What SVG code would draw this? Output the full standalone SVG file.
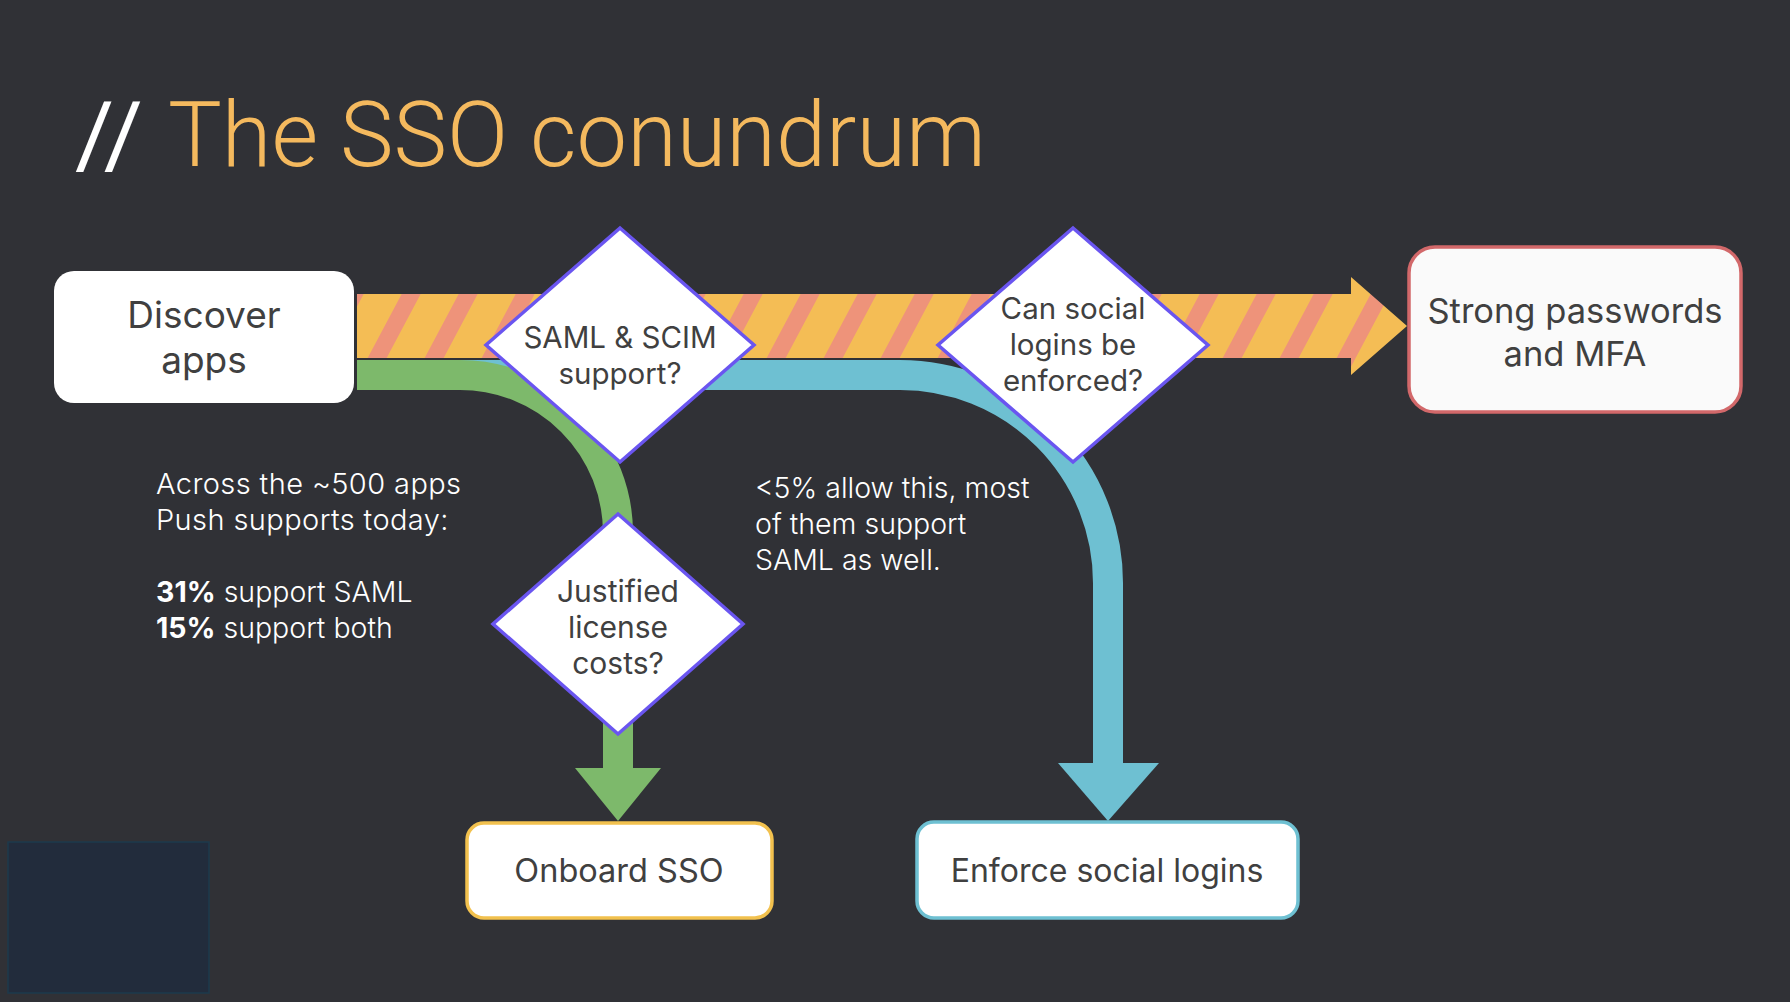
<svg xmlns="http://www.w3.org/2000/svg" width="1790" height="1002" viewBox="0 0 1790 1002">
<defs>
<pattern id="stripes" patternUnits="userSpaceOnUse" x="-12" y="0" width="57" height="10" patternTransform="skewX(-28)">
<rect x="0" y="0" width="57" height="10" fill="#F4BD55"/>
<rect x="0" y="0" width="19" height="10" fill="#EE937A"/>
</pattern>
<style>
.lbl{font-family:Inter,"Noto Sans","Liberation Sans",sans-serif;fill:#404040;text-anchor:middle}
.box{fill:#FFFFFF}
.dia{fill:#FFFFFF;stroke:#6A55F0;stroke-width:3.5;stroke-linejoin:miter}
.note{font-family:Inter,"Noto Sans","Liberation Sans",sans-serif;fill:#FFFFFF;font-weight:300;font-size:29px;letter-spacing:0.4px}
.note2{font-family:Inter,"Noto Sans","Liberation Sans",sans-serif;fill:#FFFFFF;font-weight:300;font-size:28.5px}
.flow{fill:none;stroke-width:30}
</style>
</defs>
<rect x="0" y="0" width="1790" height="1002" fill="#303136"/>

<g id="title">
<text x="75" y="166" font-family="Roboto,'Liberation Sans',sans-serif" font-size="91" font-weight="400" fill="#FFFFFF" textLength="68" lengthAdjust="spacingAndGlyphs">//</text>
<text x="168" y="166" font-family="Roboto,'Liberation Sans',sans-serif" font-size="91" font-weight="300" fill="#F4B95E" textLength="818" lengthAdjust="spacingAndGlyphs">The SSO conundrum</text>
</g>

<rect x="8" y="842" width="201" height="151" fill="#222C3C" stroke="#1D3A4C" stroke-width="1.5"/>

<g id="connectors">
<path d="M357,375 H900 A208,208 0 0 1 1108,583 V766" class="flow" stroke="#6EC0D2"/>
<polygon points="1058,763 1159,763 1108,821" fill="#6EC0D2"/>
<path d="M357,375 H460 A158,158 0 0 1 618,533 V770" class="flow" stroke="#7DB96B"/>
<polygon points="575,768 661,768 618,821" fill="#7DB96B"/>
<polygon points="357,294 1351,294 1351,277 1407,326 1351,375 1351,358 357,358" fill="url(#stripes)"/>
</g>

<g id="node-discover">
<rect class="box" x="54" y="271" width="300" height="132" rx="20"/>
<text class="lbl" x="204" y="328" font-size="37">Discover</text>
<text class="lbl" x="204" y="373" font-size="37">apps</text>
</g>

<g id="node-strong">
<rect x="1409" y="247" width="332" height="165" rx="26" fill="#FAFAFA" stroke="#D2686A" stroke-width="3.5"/>
<text class="lbl" x="1575" y="323" font-size="34.5">Strong passwords</text>
<text class="lbl" x="1575" y="366" font-size="34.5">and MFA</text>
</g>

<g id="node-saml">
<polygon class="dia" points="620,228 754,345 620,462 486,345"/>
<text class="lbl" x="620" y="348" font-size="29.5">SAML &amp; SCIM</text>
<text class="lbl" x="620" y="384" font-size="29.5">support?</text>
</g>

<g id="node-social">
<polygon class="dia" points="1073,228 1208,345 1073,462 938,345"/>
<text class="lbl" x="1073" y="319" font-size="29.5">Can social</text>
<text class="lbl" x="1073" y="355" font-size="29.5">logins be</text>
<text class="lbl" x="1073" y="391" font-size="29.5">enforced?</text>
</g>

<g id="node-justified">
<polygon class="dia" points="618,514 743,624 618,734 493,624"/>
<text class="lbl" x="618" y="602" font-size="30">Justified</text>
<text class="lbl" x="618" y="638" font-size="30">license</text>
<text class="lbl" x="618" y="674" font-size="30">costs?</text>
</g>

<g id="node-onboard">
<rect class="box" x="467" y="823" width="305" height="95" rx="17" stroke="#F2C14E" stroke-width="3.5"/>
<text class="lbl" x="619" y="882" font-size="32.5">Onboard SSO</text>
</g>

<g id="node-enforce">
<rect class="box" x="917" y="822" width="381" height="96" rx="17" stroke="#6EC0D2" stroke-width="3.5"/>
<text class="lbl" x="1107" y="882" font-size="32">Enforce social logins</text>
</g>

<g id="notes">
<text class="note" x="156" y="494">Across the ~500 apps</text>
<text class="note" x="156" y="530">Push supports today:</text>
<text class="note2" x="156" y="602"><tspan font-weight="700">31%</tspan> support SAML</text>
<text class="note2" x="156" y="638"><tspan font-weight="700">15%</tspan> support both</text>
<text class="note2" x="755" y="498">&lt;5% allow this, most</text>
<text class="note2" x="755" y="534">of them support</text>
<text class="note2" x="755" y="570">SAML as well.</text>
</g>
</svg>
